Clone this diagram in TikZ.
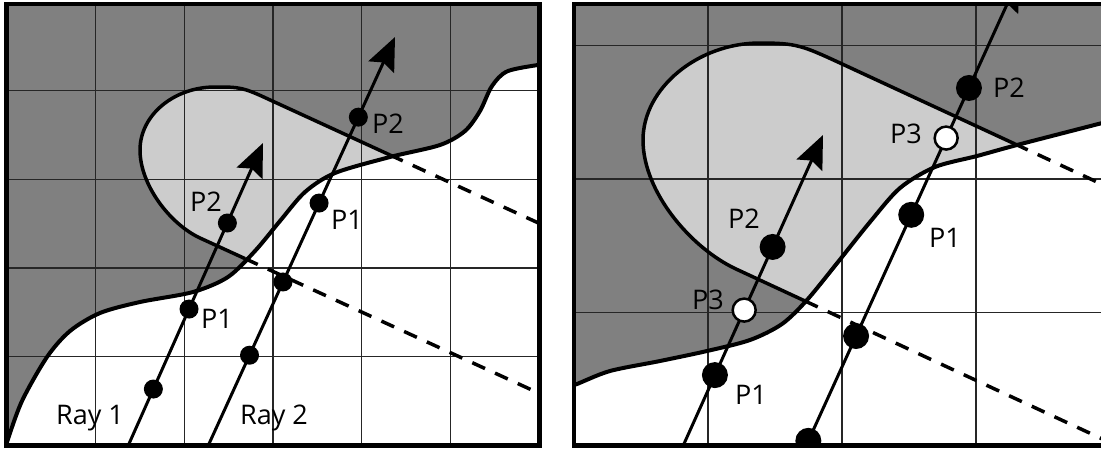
\documentclass[tikz,border=0pt]{standalone}
\usepackage{fontspec}
\setmainfont{Open Sans}
\usetikzlibrary{arrows.meta}

\definecolor{darkzone}{gray}{0.5}
\definecolor{lightzone}{gray}{0.8}

\tikzset{
  ray/.style={line width=3pt,-{Stealth[length=33pt,width=28pt,inset=5pt]}},
  wall/.style={line width=4pt},
  edge/.style={line width=3.5pt},
  shadowline/.style={line width=3.5pt,dash pattern=on 14pt off 11pt},
  gridline/.style={line width=1.2pt,black!85},
  frame/.style={line width=4.5pt},
  dot/.style={circle,fill=black,inner sep=0pt,minimum size=19pt},
  bigdot/.style={circle,fill=black,inner sep=0pt,minimum size=26pt},
  hollow/.style={circle,draw=black,fill=white,line width=2.5pt,inner sep=0pt,minimum size=23pt},
  lbl/.style={font=\fontsize{27}{32}\selectfont,inner sep=0pt,anchor=base}
}

\begin{document}
\begin{tikzpicture}[x=1pt,y=-1pt]
\useasboundingbox (0,0) rectangle (1101,448);

% ---------- left panel ----------
\begin{scope}
  \clip (6.5,4) rectangle (539.5,445.5);
  \fill[darkzone] (0,0) rectangle (545,450);
  % shadow strip behind the obstacle
  \fill[lightzone] (545,396) -- (200,238) .. controls (170,224) and (140,185) .. (140,150)
    .. controls (140,115) and (174,87) .. (215,87) .. controls (240,87) and (243,87.4) .. (268,99)
    -- (545,226) -- cycle;
  % free space below the wall
  \fill[white] plot[smooth] coordinates {(5,450) (7,442) (22,401) (47,357) (70,331) (100,313)
    (140,302) (193,292) (228,277) (255,251) (280,221) (305,192) (335,173) (390,157) (440,145)
    (465,131) (480,111) (492,86) (508,71) (545,64)} -- (545,450) -- cycle;
  % grid
  \foreach \k in {1,...,5}
    \draw[gridline] (6.5+88.8*\k,0) -- (6.5+88.8*\k,450);
  \foreach \k in {1,...,4}
    \draw[gridline] (0,445.5-88.8*\k) -- (545,445.5-88.8*\k);
  % obstacle outline
  \coordinate (lowhit) at (245,258.6);
  \coordinate (uphit) at (390,155);
  \draw[edge] (lowhit) -- (200,238) .. controls (170,224) and (140,185) .. (140,150)
    .. controls (140,115) and (174,87) .. (215,87) .. controls (240,87) and (243,87.4) .. (268,99)
    -- (uphit);
  \draw[shadowline] (lowhit) -- (545,396);
  \draw[shadowline] (uphit) -- (545,226);
  % wall
  \draw[wall] plot[smooth] coordinates {(5,450) (7,442) (22,401) (47,357) (70,331) (100,313)
    (140,302) (193,292) (228,277) (255,251) (280,221) (305,192) (335,173) (390,157) (440,145)
    (465,131) (480,111) (492,86) (508,71) (545,64)};
  % rays
  \coordinate (ray1s) at (128,446);
  \coordinate (ray1t) at (263,143);
  \coordinate (ray2s) at (208,446);
  \coordinate (ray2t) at (395,37);
  \draw[ray] (ray1s) -- (ray1t)
    node[dot,pos=0.188] (a0) {}
    node[dot,pos=0.452] (a1) {}
    node[dot,pos=0.736] (a2) {};
  \draw[ray] (ray2s) -- (ray2t)
    node[dot,pos=0.222] (b0) {}
    node[dot,pos=0.401] (b00) {}
    node[dot,pos=0.594] (b1) {}
    node[dot,pos=0.804] (b2) {};
  % labels
  \node[lbl] (ray1lbl) at (90,424) {Ray 1};
  \node[lbl] (ray2lbl) at (274,424) {Ray 2};
  \node[lbl] (a1lbl) at (217,328) {P1};
  \node[lbl] (a2lbl) at (206,211) {P2};
  \node[lbl] (b1lbl) at (347,229) {P1};
  \node[lbl] (b2lbl) at (388,133) {P2};
\end{scope}
\draw[frame] (6.5,4) rectangle (539.5,445.5);

% ---------- right panel (close-up) ----------
\begin{scope}
  \clip (574,4) rectangle (1104,445.5);
  \fill[darkzone] (570,0) rectangle (1110,450);
  % shadow strip behind the obstacle
  \fill[lightzone] (1110,442.5) -- (736,269) .. controls (691,248) and (643,192) .. (643,140)
    .. controls (643,88) and (698,43) .. (760,43) .. controls (797,43) and (803,46) .. (840,63)
    -- (1110,188) -- cycle;
  % free space below the wall
  \fill[white] plot[smooth] coordinates {(570,386) (577,384) (610,371) (660,361) (707,351) (750,340)
    (782,324) (807,300) (838,262) (870,222) (900,188) (935,167) (977,156) (1017,145)
    (1110,121)} -- (1110,450) -- (570,450) -- cycle;
  % grid
  \foreach \k in {1,...,3}
    \draw[gridline] (574+134*\k,0) -- (574+134*\k,450);
  \foreach \k in {1,...,3}
    \draw[gridline] (570,446-133.5*\k) -- (1110,446-133.5*\k);
  % obstacle outline
  \coordinate (rlowhit) at (805,301);
  \coordinate (ruphit) at (1015,144);
  \draw[edge] (rlowhit) -- (736,269) .. controls (691,248) and (643,192) .. (643,140)
    .. controls (643,88) and (698,43) .. (760,43) .. controls (797,43) and (803,46) .. (840,63)
    -- (ruphit);
  \draw[shadowline] (rlowhit) -- (1110,442.5);
  \draw[shadowline] (ruphit) -- (1110,188);
  % wall
  \draw[wall] plot[smooth] coordinates {(570,386) (577,384) (610,371) (660,361) (707,351) (750,340)
    (782,324) (807,300) (838,262) (870,222) (900,188) (935,167) (977,156) (1017,145)
    (1110,121)};
  % rays
  \coordinate (rray1s) at (683,446);
  \coordinate (rray1t) at (823,135);
  \coordinate (rray2s) at (806,446);
  \coordinate (rray2t) at (1019,-22);
  \draw[ray] (rray1s) -- (rray1t)
    node[bigdot,pos=0.228] (c1) {}
    node[hollow,pos=0.437] (c3) {}
    node[bigdot,pos=0.64] (c2) {};
  \draw[ray] (rray2s) -- (rray2t)
    node[bigdot,pos=0.011] (d0) {}
    node[bigdot,pos=0.235] (d00) {}
    node[bigdot,pos=0.494] (d1) {}
    node[hollow,pos=0.658] (d3) {}
    node[bigdot,pos=0.765] (d2) {};
  % labels
  \node[lbl] (c1lbl) at (751,404) {P1};
  \node[lbl] (c3lbl) at (708,309) {P3};
  \node[lbl] (c2lbl) at (744,228) {P2};
  \node[lbl] (d1lbl) at (945,247) {P1};
  \node[lbl] (d3lbl) at (906,143) {P3};
  \node[lbl] (d2lbl) at (1009,97) {P2};
\end{scope}
\draw[frame] (574,4) rectangle (1104,445.5);

\end{tikzpicture}
\end{document}
